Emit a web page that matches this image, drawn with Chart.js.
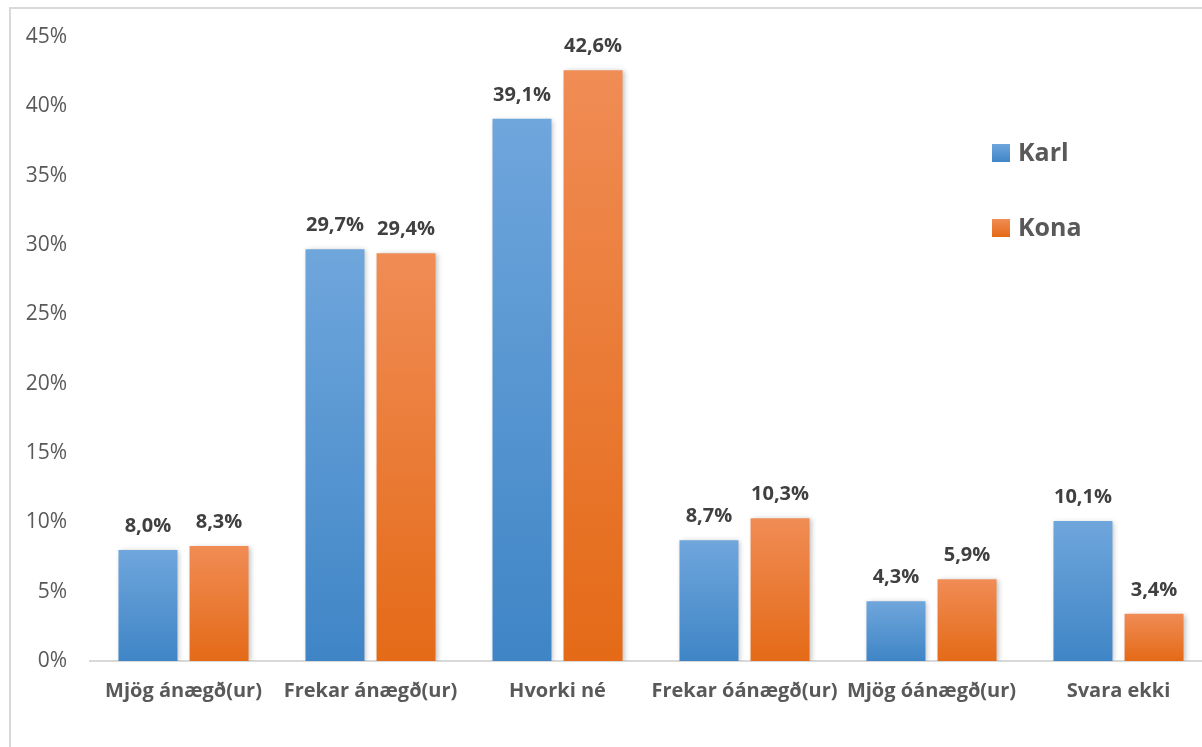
<!DOCTYPE html>
<html>
<head>
<meta charset="utf-8">
<script src="https://cdn.jsdelivr.net/npm/chart.js@4"></script>
<style>
  html, body { margin: 0; padding: 0; background: #fff; overflow: hidden; }
  #frame { position: absolute; left: 9px; top: 7px; width: 1260px; height: 800px; border: 2px solid #d9d9d9; }
  #chart { position: absolute; left: 0; top: 0; }
</style>
</head>
<body>
<div id="frame"></div>
<canvas id="chart" width="1212" height="747"></canvas>
<script>
// Categories and values (percent)
const categories = ['Mjög ánægð(ur)', 'Frekar ánægð(ur)', 'Hvorki né', 'Frekar óánægð(ur)', 'Mjög óánægð(ur)', 'Svara ekki'];
const karl = [8.0, 29.7, 39.1, 8.7, 4.3, 10.1];
const kona = [8.3, 29.4, 42.6, 10.3, 5.9, 3.4];
const yTicks = [0, 5, 10, 15, 20, 25, 30, 35, 40, 45];

const FONT = 'Open Sans';
const fmt = v => v.toFixed(1).replace('.', ',') + '%';

// per-bar vertical gradient, lighter at the top like the Excel original
function barFill(top, bottom) {
    return function (ctx) {
        const chart = ctx.chart;
        const y = chart.scales.y;
        if (!y || ctx.raw === undefined) return bottom;
        const y0 = y.getPixelForValue(ctx.raw);
        const y1 = y.getPixelForValue(0);
        if (!isFinite(y0) || !isFinite(y1) || y0 === y1) return bottom;
        const g = chart.ctx.createLinearGradient(0, y0, 0, y1);
        g.addColorStop(0, top);
        g.addColorStop(1, bottom);
        return g;
    };
}

// value labels above the bars
const valueLabels = {
    id: 'valueLabels',
    afterDatasetsDraw(chart) {
        const ctx = chart.ctx;
        ctx.save();
        ctx.font = 'bold 20px ' + FONT;
        ctx.fillStyle = '#404040';
        ctx.textAlign = 'center';
        ctx.textBaseline = 'bottom';
        chart.data.datasets.forEach((ds, i) => {
            chart.getDatasetMeta(i).data.forEach((bar, j) => {
                ctx.fillText(fmt(ds.data[j]), bar.x, bar.y - 14);
            });
        });
        ctx.restore();
    }
};

// shadow under the bars
const barShadow = {
    id: 'barShadow',
    beforeDatasetsDraw(chart) {
        const ctx = chart.ctx;
        ctx.save();
        ctx.shadowColor = 'rgba(0,0,0,0.25)';
        ctx.shadowBlur = 5;
        ctx.shadowOffsetX = 2;
        ctx.shadowOffsetY = 1;
    },
    afterDatasetsDraw(chart) {
        chart.ctx.restore();
    }
};

// legend at the right, over the plot area
const sideLegend = {
    id: 'sideLegend',
    afterDraw(chart) {
        const ctx = chart.ctx;
        const items = [
            { text: 'Karl', top: '#6fa6dc', bottom: '#3f85c6', y: 153 },
            { text: 'Kona', top: '#f08c55', bottom: '#e46a17', y: 228 }
        ];
        ctx.save();
        items.forEach(it => {
            const g = ctx.createLinearGradient(0, it.y - 9, 0, it.y + 9);
            g.addColorStop(0, it.top);
            g.addColorStop(1, it.bottom);
            ctx.fillStyle = g;
            ctx.fillRect(992, it.y - 9, 18, 18);
            ctx.fillStyle = '#595959';
            ctx.font = 'bold 25px ' + FONT;
            ctx.textBaseline = 'middle';
            ctx.textAlign = 'left';
            ctx.fillText(it.text, 1018, it.y + 1);
        });
        ctx.restore();
    }
};

new Chart(document.getElementById('chart'), {
    type: 'bar',
    data: {
        labels: categories,
        datasets: [{
            label: 'Karl',
            data: karl,
            backgroundColor: barFill('#6fa6dc', '#3f85c6'),
            categoryPercentage: 0.76,
            barPercentage: 0.83
        }, {
            label: 'Kona',
            data: kona,
            backgroundColor: barFill('#f08c55', '#e46a17'),
            categoryPercentage: 0.76,
            barPercentage: 0.83
        }]
    },
    options: {
        responsive: false,
        animation: false,
        layout: { padding: { top: 37, right: 0, bottom: 0, left: 0 } },
        plugins: {
            legend: { display: false },
            tooltip: { enabled: false }
        },
        scales: {
            x: {
                grid: { display: false },
                border: { color: '#d9d9d9', width: 2 },
                ticks: {
                    color: '#595959',
                    font: { family: FONT, size: 20, weight: 'bold' },
                    padding: 10,
                    maxRotation: 0,
                    autoSkip: false
                },
                afterFit(scale) { scale.height = 86; }
            },
            y: {
                min: 0,
                max: 45,
                afterBuildTicks(scale) { scale.ticks = yTicks.map(v => ({ value: v })); },
                grid: { display: false },
                border: { display: false },
                ticks: {
                    color: '#595959',
                    font: { family: FONT, size: 21 },
                    padding: 15,
                    callback: v => v + '%'
                },
                afterFit(scale) { scale.width = 90; }
            }
        }
    },
    plugins: [barShadow, valueLabels, sideLegend]
});
</script>
</body>
</html>
